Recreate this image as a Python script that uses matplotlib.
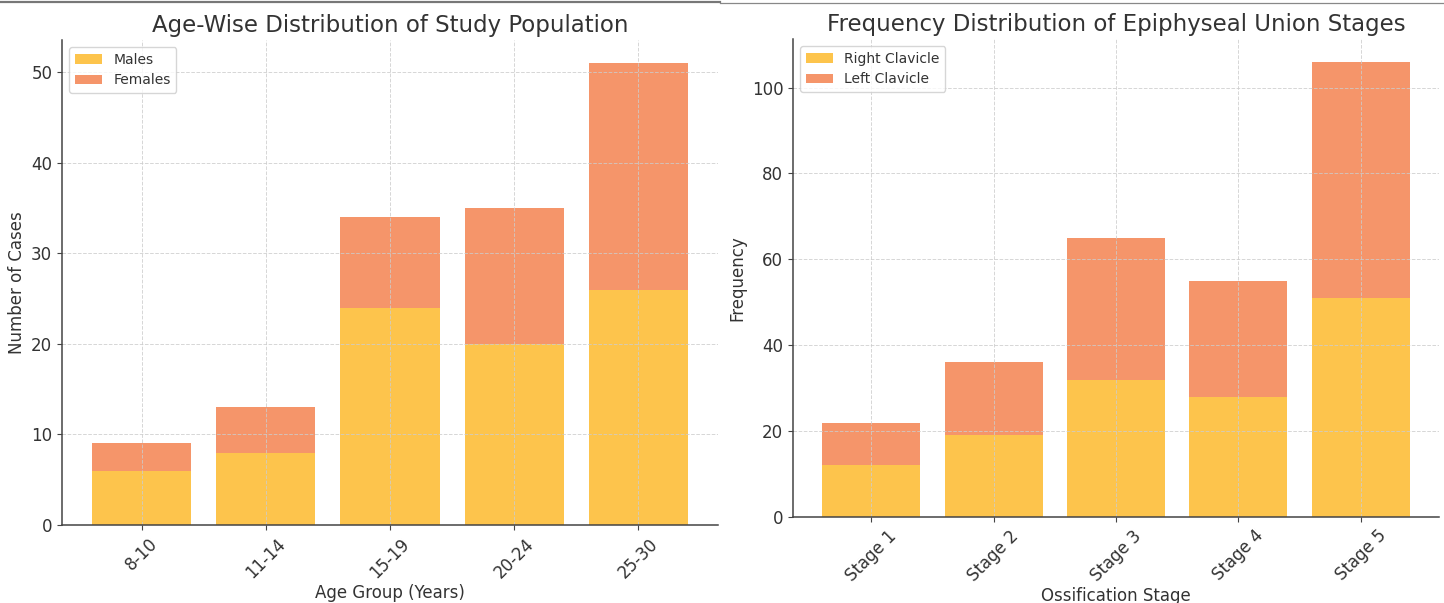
import matplotlib.pyplot as plt
from matplotlib.lines import Line2D
import numpy as np

plt.rcParams['font.family'] = ['DejaVu Sans']

age_groups = ['8-10', '11-14', '15-19', '20-24', '25-30']
males = [6, 8, 24, 20, 26]
females = [3, 5, 10, 15, 25]

stages = ['Stage 1', 'Stage 2', 'Stage 3', 'Stage 4', 'Stage 5']
right_clavicle = [12, 19, 32, 28, 51]
left_clavicle = [10, 17, 33, 27, 55]

YELLOW = '#FDC44C'
ORANGE = '#F5956A'
TEXT = '#333333'


def stacked(ax, cats, low, high, labels, title, xlabel, ylabel):
    x = np.arange(len(cats))
    ax.bar(x, low, color=YELLOW, label=labels[0])
    ax.bar(x, high, bottom=low, color=ORANGE, label=labels[1])
    ax.set_xticks(x)
    ax.set_xticklabels(cats, rotation=45, fontsize=12, color=TEXT)
    ax.tick_params(axis='y', labelsize=12, labelcolor=TEXT)
    ax.tick_params(color='#444444')
    ax.set_title(title, fontsize=16.5, color=TEXT, pad=6)
    ax.set_xlabel(xlabel, fontsize=12, color=TEXT, labelpad=2)
    ax.set_ylabel(ylabel, fontsize=12, color=TEXT)
    ax.grid(True, linestyle='--', color='#cccccc', linewidth=0.7, alpha=0.8)
    for s in ['top', 'right']:
        ax.spines[s].set_visible(False)
    for s in ['left', 'bottom']:
        ax.spines[s].set_color('#444444')
        ax.spines[s].set_linewidth(1.1)
    leg = ax.legend(loc='upper left', fontsize=10, frameon=True)
    for t in leg.get_texts():
        t.set_color(TEXT)


fig = plt.figure(figsize=(14.44, 6.03), dpi=100)
W, H = 1444, 603
ax1 = fig.add_axes([62 / W, (H - 525) / H, 656 / W, 485 / H])
ax2 = fig.add_axes([793 / W, (H - 517) / H, 646 / W, 478 / H])

stacked(ax1, age_groups, males, females, ['Males', 'Females'],
        'Age-Wise Distribution of Study Population',
        'Age Group (Years)', 'Number of Cases')
stacked(ax2, stages, right_clavicle, left_clavicle,
        ['Right Clavicle', 'Left Clavicle'],
        'Frequency Distribution of Epiphyseal Union Stages',
        'Ossification Stage', 'Frequency')

# thin border lines at the top of the image
fig.add_artist(Line2D([0, 720 / W], [1 - 2 / H, 1 - 2 / H], color='#777777', linewidth=1.6))
fig.add_artist(Line2D([720 / W, 1], [1 - 2.5 / H, 1 - 2.5 / H], color='#888888', linewidth=0.9))

fig.savefig('out.png', dpi=100)
